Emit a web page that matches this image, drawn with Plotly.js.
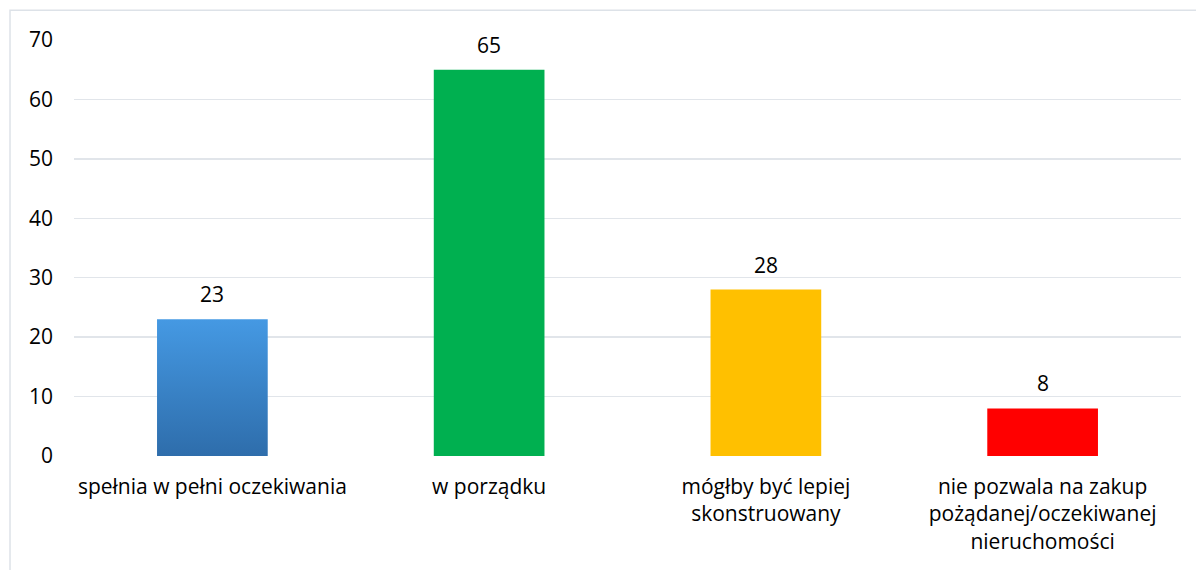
<!DOCTYPE html>
<html>
<head>
<meta charset="utf-8">
<script src="https://cdn.plot.ly/plotly-3.0.1.min.js"></script>
<style>html,body{margin:0;padding:0;background:#fff;}#chart{width:1196px;height:570px;}</style>
</head>
<body>
<div id="chart"></div>
<script>
const categories = [
  "spełnia w pełni oczekiwania",
  "w porządku",
  "mógłby być lepiej<br>skonstruowany",
  "nie pozwala na zakup<br>pożądanej/oczekiwanej<br>nieruchomości"
];
const values = [23, 65, 28, 8];
const barColors = ["#3a86d4", "#00b050", "#ffc000", "#ff0000"];
const yTicks = [0, 10, 20, 30, 40, 50, 60, 70];

const FONT = "Open Sans, sans-serif";
const FS = 21;

const trace = {
  type: "bar",
  x: categories,
  y: values,
  marker: { color: barColors, line: { width: 0 } },
  hoverinfo: "none"
};

const annotations = categories.map((c, i) => ({
  x: c, y: values[i], xref: "x", yref: "y",
  text: String(values[i]), showarrow: false,
  yanchor: "bottom", yshift: 9,
  font: { family: FONT, size: FS, color: "#000" }
}));

const layout = {
  width: 1196, height: 570,
  margin: { l: 74, r: 15, t: 40, b: 114 },
  paper_bgcolor: "#fff", plot_bgcolor: "#fff",
  bargap: 0.6,
  showlegend: false,
  font: { family: FONT, size: FS, color: "#000" },
  xaxis: {
    type: "category",
    showgrid: false, zeroline: false, showline: false,
    ticks: "", tickfont: { family: FONT, size: FS, color: "#000" },
    ticklabelstandoff: 16
  },
  yaxis: {
    range: [0, 70], tickvals: yTicks, ticktext: yTicks.map(String),
    showgrid: true, gridcolor: "#e1e5ea", gridwidth: 1.5,
    zeroline: false, showline: false, ticks: "",
    tickfont: { family: FONT, size: FS, color: "#000" },
    ticklabelstandoff: 20
  },
  annotations: annotations,
  shapes: [{
    type: "rect", xref: "paper", yref: "paper",
    x0: -0.0578, x1: 1.02, y0: -0.3, y1: 1.0715,
    line: { color: "#dde2e8", width: 1.5 }, fillcolor: "rgba(0,0,0,0)",
    layer: "below"
  }]
};

Plotly.newPlot("chart", [trace], layout, { staticPlot: true, displayModeBar: false }).then(gd => {
  const svg = gd.querySelector("svg.main-svg");
  const ns = "http://www.w3.org/2000/svg";
  let defs = svg.querySelector("defs");
  if (!defs) { defs = document.createElementNS(ns, "defs"); svg.insertBefore(defs, svg.firstChild); }
  const lg = document.createElementNS(ns, "linearGradient");
  lg.setAttribute("id", "blueGrad");
  lg.setAttribute("x1", "0"); lg.setAttribute("y1", "0");
  lg.setAttribute("x2", "0"); lg.setAttribute("y2", "1");
  const s1 = document.createElementNS(ns, "stop");
  s1.setAttribute("offset", "0"); s1.setAttribute("stop-color", "#4599e3");
  const s2 = document.createElementNS(ns, "stop");
  s2.setAttribute("offset", "1"); s2.setAttribute("stop-color", "#2e6dab");
  lg.appendChild(s1); lg.appendChild(s2); defs.appendChild(lg);
  const firstBar = gd.querySelector(".bars .point path");
  if (firstBar) firstBar.style.fill = "url(#blueGrad)";
});
</script>
</body>
</html>
